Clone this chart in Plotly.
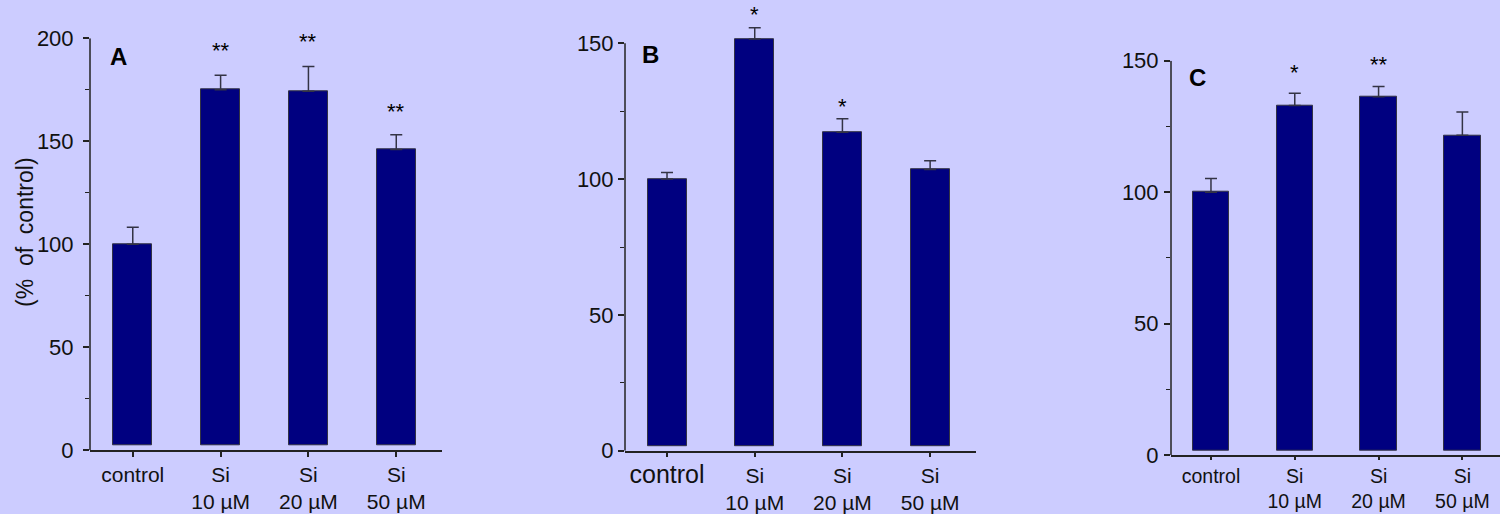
import plotly.graph_objects as go

# ---- data ----
categories = ["control", "Si<br>10 µM", "Si<br>20 µM", "Si<br>50 µM"]
categories_b = ["<span style='font-size:25px'>control</span>", "Si<br>10 µM", "Si<br>20 µM", "Si<br>50 µM"]

values_a = [100, 175, 174.3, 146]
errors_a = [8.2, 7, 12, 7.1]
stars_a = ["", "**", "**", "**"]

values_b = [100, 151.6, 117.3, 103.5]
errors_b = [2.4, 4.1, 4.9, 3.3]
stars_b = ["", "*", "*", ""]

values_c = [100, 133, 136.3, 121.6]
errors_c = [5.2, 4.6, 3.9, 8.9]
stars_c = ["", "*", "**", ""]

y_ticks_a = [0, 50, 100, 150, 200]
y_minor_a = [25, 75, 125, 175]
y_ticks_bc = [0, 50, 100, 150]
y_minor_bc = [25, 75, 125]

panel_labels = ["A", "B", "C"]
y_title = "(%\u00a0\u00a0of\u00a0\u00a0control)"

BG = "#CCCCFF"
BAR = "#000080"
EDGE = "#333344"
AX = "#222222"
FONT = "Arial, Liberation Sans, sans-serif"

fig = go.Figure()

panels = [
    dict(vals=values_a, errs=errors_a, stars=stars_a, cats=categories, xa="x", ya="y",
         xdom=[0.06, 0.2945], ydom=[0.1245, 0.9255], xr=[-0.487, 3.518], yr=[0, 200], ytop=200,
         ticks=y_ticks_a, minor=y_minor_a, ystand=5, xtl=5, xfs=21,
         width=0.444, base=2.2, star_off=[0, 12, 12, 11.5], lab=(118, 56.7)),
    dict(vals=values_b, errs=errors_b, stars=stars_b, cats=categories_b, xa="x2", ya="y2",
         xdom=[0.41667, 0.65067], ydom=[0.1232, 0.9685], xr=[-0.479, 3.523], yr=[0, 160], ytop=150,
         ticks=y_ticks_bc, minor=y_minor_bc, ystand=0, xtl=5, xfs=21,
         width=0.445, base=1.7, star_off=[0, 5, 4.7, 0], lab=(650, 55)),
    dict(vals=values_c, errs=errors_c, stars=stars_c, cats=categories, xa="x3", ya="y3",
         xdom=[0.78067, 1.0], ydom=[0.1148, 0.8819], xr=[-0.477, 3.449], yr=[0, 150], ytop=150,
         ticks=y_ticks_bc, minor=y_minor_bc, ystand=1, xtl=3, xfs=19.5,
         width=0.436, base=1.6, star_off=[0, 7.8, 8.4, 0], lab=(1197, 77)),
]

annotations = []
shapes = []
for i, p in enumerate(panels):
    heights = [v - p["base"] for v in p["vals"]]
    fig.add_trace(go.Bar(
        x=list(range(len(p["vals"]))), y=heights, base=p["base"],
        width=p["width"], cliponaxis=False,
        marker=dict(color=BAR, line=dict(color=EDGE, width=1)),
        error_y=dict(type="data", symmetric=False, array=p["errs"],
                     arrayminus=[0] * len(p["errs"]), color="#333344",
                     thickness=1.5, width=6),
        xaxis=p["xa"], yaxis=p["ya"], showlegend=False, hoverinfo="skip",
    ))
    ymax = p["yr"][1]
    for j, s in enumerate(p["stars"]):
        if s:
            annotations.append(dict(
                x=j, y=(p["vals"][j] + p["errs"][j] + p["star_off"][j]) / ymax,
                xref=p["xa"], yref=p["ya"] + " domain", text=s, showarrow=False,
                font=dict(family=FONT, size=22, color="black"),
                xanchor="center", yanchor="middle",
            ))
    annotations.append(dict(
        x=p["lab"][0] / 1500, y=1 - p["lab"][1] / 514, xref="paper", yref="paper",
        text="<b>%s</b>" % panel_labels[i], showarrow=False,
        font=dict(family=FONT, size=24, color="black"),
        xanchor="center", yanchor="middle",
    ))
    # y axis line, only up to the last labelled tick
    shapes.append(dict(type="line", xref=p["xa"] + " domain", yref=p["ya"],
                       x0=0, x1=0, y0=0, y1=p["ytop"],
                       line=dict(color=AX, width=1.5), layer="above"))

annotations.append(dict(
    x=25 / 1500, y=1 - 232 / 514, xref="paper", yref="paper",
    text=y_title, textangle=-90, showarrow=False,
    font=dict(family=FONT, size=23, color="#111111"),
    xanchor="center", yanchor="middle",
))

layout = dict(
    width=1500, height=514,
    margin=dict(l=0, r=0, t=0, b=0, autoexpand=False),
    paper_bgcolor=BG, plot_bgcolor=BG,
    font=dict(family=FONT, size=21, color="#111111"),
    annotations=annotations, shapes=shapes,
    bargap=0,
)

for i, p in enumerate(panels):
    suffix = "" if i == 0 else str(i + 1)
    layout["xaxis" + suffix] = dict(
        domain=p["xdom"], range=p["xr"], anchor=p["ya"], automargin=False,
        tickmode="array", tickvals=list(range(4)), ticktext=p["cats"],
        showline=True, linecolor=AX, linewidth=1.5,
        ticks="outside", ticklen=p["xtl"], tickwidth=1.5, tickcolor=AX,
        showgrid=False, zeroline=False, fixedrange=True,
        tickfont=dict(family=FONT, size=p["xfs"], color="#111111"),
    )
    layout["yaxis" + suffix] = dict(
        domain=p["ydom"], range=p["yr"], anchor=p["xa"], automargin=False,
        tickmode="array", tickvals=p["ticks"],
        showline=False, ticklabelstandoff=p["ystand"],
        ticks="outside", ticklen=6, tickwidth=1.5, tickcolor=AX,
        minor=dict(tickmode="array", tickvals=p["minor"], ticks="outside", ticklen=4,
                   tickcolor=AX, tickwidth=1, showgrid=False),
        showgrid=False, zeroline=False, fixedrange=True,
        tickfont=dict(family=FONT, size=22, color="#111111"),
    )

fig.update_layout(**layout)
fig.write_html("out.html", config={"displayModeBar": False},
               post_script="document.body.style.margin='0';document.body.style.background='%s';" % BG)
